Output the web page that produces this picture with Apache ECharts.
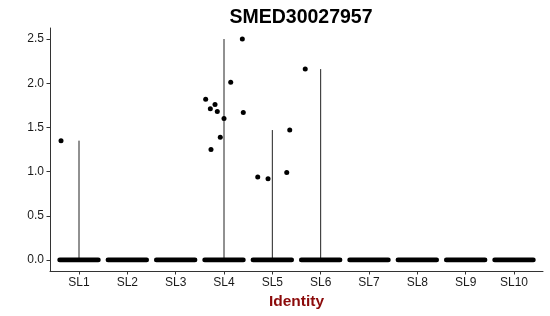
<!DOCTYPE html>
<html>
<head>
<meta charset="utf-8">
<script src="https://cdn.jsdelivr.net/npm/echarts@6/dist/echarts.min.js"></script>
<style>html,body{margin:0;padding:0;background:#fff}#c{width:550px;height:316px}</style>
</head>
<body>
<div id="c"></div>
<script>
// ---- data ----
var categories = ['SL1','SL2','SL3','SL4','SL5','SL6','SL7','SL8','SL9','SL10'];
var yTicks = [0, 0.5, 1.0, 1.5, 2.0, 2.5];
// non-zero cells: identity index (1-based), jitter offset, expression value
var pointIdent  = [1, 4, 4, 4, 4, 4, 4, 4, 4, 4, 4, 5, 5, 5, 5, 6];
var pointJitter = [-0.372, 0.379, 0.139, -0.379, -0.186, -0.283, -0.139, 0.399, 0.0, -0.077, -0.269, -0.302, -0.089, 0.298, 0.360, -0.319];
var pointValue  = [1.35, 2.50, 2.01, 1.82, 1.76, 1.71, 1.68, 1.67, 1.60, 1.39, 1.25, 0.94, 0.92, 0.99, 1.47, 2.16];

// ---- build ----
var JITTER = 0.4;
var violinMax = categories.map(function(c, i){
  var m = 0;
  for (var k = 0; k < pointIdent.length; k++) if (pointIdent[k] === i + 1 && pointValue[k] > m) m = pointValue[k];
  return m;
});
var violinData = categories.map(function(c, i){ return [i + 1, violinMax[i]]; });
var scatterData = pointIdent.map(function(id, k){ return [id + pointJitter[k], pointValue[k]]; });

var chart = echarts.init(document.getElementById('c'), null, {renderer: 'canvas'});
var textColor = '#1a1a1a';
chart.setOption({
  animation: false,
  backgroundColor: '#fff',
  title: {
    text: 'SMED30027957',
    left: 296, top: 3, textAlign: 'center',
    textStyle: {fontFamily: 'Liberation Sans, Arial, sans-serif', fontSize: 19.5, fontWeight: 'bold', color: '#000'}
  },
  grid: {left: 50, right: 7, top: 28, bottom: 45, containLabel: false},
  xAxis: {
    type: 'value', min: 0.4, max: 10.6,
    name: 'Identity', nameLocation: 'middle', nameGap: 19,
    nameTextStyle: {fontFamily: 'Liberation Sans, Arial, sans-serif', fontSize: 15.5, fontWeight: 'bold', color: '#8B0A0A'},
    axisLine: {show: true, onZero: false, lineStyle: {color: '#333', width: 1}},
    axisTick: {show: true, length: 3.5, customValues: categories.map(function(c,i){return i+1;}), lineStyle: {color: '#333'}},
    axisLabel: {
      customValues: categories.map(function(c,i){return i+1;}),
      formatter: function(v){ return categories[Math.round(v) - 1] || ''; },
      fontFamily: 'Liberation Sans, Arial, sans-serif', fontSize: 12, color: textColor, margin: 6
    },
    splitLine: {show: false}
  },
  yAxis: {
    type: 'value', min: -0.125, max: 2.625,
    axisLine: {show: true, onZero: false, lineStyle: {color: '#333', width: 1}},
    axisTick: {show: true, length: 3.5, customValues: yTicks, lineStyle: {color: '#333'}},
    axisLabel: {
      customValues: yTicks,
      formatter: function(v){ return v.toFixed(1); },
      fontFamily: 'Liberation Sans, Arial, sans-serif', fontSize: 12, color: textColor, margin: 6
    },
    splitLine: {show: false}
  },
  series: [
    {
      type: 'custom',
      data: violinData,
      renderItem: function(params, api){
        var c = api.value(0), top = api.value(1);
        var p0 = api.coord([c, 0]);
        var pt = api.coord([c, top]);
        var pl = api.coord([c - JITTER, 0]);
        var pr = api.coord([c + JITTER, 0]);
        var children = [];
        if (top > 0) {
          children.push({type: 'line', shape: {x1: p0[0], y1: p0[1], x2: pt[0], y2: pt[1]},
            style: {stroke: '#222', lineWidth: 1}});
        }
        children.push({type: 'line', shape: {x1: pl[0], y1: pl[1], x2: pr[0], y2: pr[1]},
          style: {stroke: '#000', lineWidth: 4.8, lineCap: 'round'}});
        return {type: 'group', children: children};
      },
      z: 2
    },
    {
      type: 'scatter',
      data: scatterData,
      symbol: 'circle', symbolSize: 5,
      itemStyle: {color: '#000', opacity: 1},
      z: 3
    }
  ]
});
</script>
</body>
</html>
